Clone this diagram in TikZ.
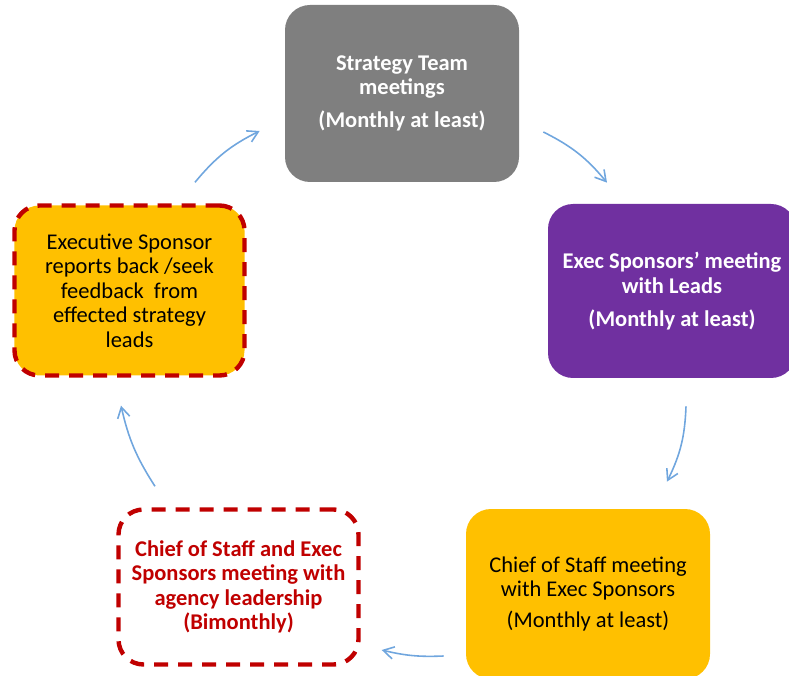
\documentclass[tikz,border=0pt]{standalone}
\usepackage{fontspec}
\setmainfont{Carlito}
\usepackage{tikz}
\usetikzlibrary{arrows.meta}

\definecolor{stratgray}{HTML}{7F7F7F}
\definecolor{leadpurple}{HTML}{7030A0}
\definecolor{chiefyellow}{HTML}{FFC000}
\definecolor{agencyred}{HTML}{C00000}
\definecolor{flowblue}{RGB}{112,166,222}

\begin{document}
\begin{tikzpicture}[
    box/.style={rounded corners=0.5cm, align=center, font=\fontsize{12.8}{13.9}\selectfont, inner sep=0pt},
    dashbox/.style={box, draw=agencyred, line width=2.5pt, dash pattern=on 0.28cm off 0.2cm},
    flow/.style={-{Straight Barb[length=6pt,width=7pt]}, draw=flowblue, line width=0.9pt}
  ]
    \useasboundingbox (0,0) rectangle (15.78,13.5);
    \clip (0,0) rectangle (15.78,13.5);
    \node[box, fill=stratgray, text=white, font=\fontsize{12.8}{13.9}\selectfont\bfseries,
      minimum width=4.68cm, minimum height=3.54cm] (strategy) at (8.04,11.63)
      {Strategy Team\\meetings\\[5pt](Monthly at least)};
    \node[box, fill=leadpurple, text=white, font=\fontsize{12.8}{13.9}\selectfont\bfseries,
      minimum width=4.96cm, minimum height=3.48cm] (execleads) at (13.44,7.68)
      {Exec Sponsors' meeting\\with Leads\\[5pt](Monthly at least)};
    \node[box, fill=chiefyellow, minimum width=4.88cm, minimum height=3.4cm] (chiefmeet) at (11.76,1.62)
      {Chief of Staff meeting\\with Exec Sponsors\\[4pt](Monthly at least)};
    \node[dashbox, fill=white, text=agencyred, font=\fontsize{12.8}{13.9}\selectfont\bfseries,
      minimum width=4.8cm, minimum height=3.1cm] (agency) at (4.77,1.76)
      {Chief of Staff and Exec\\Sponsors meeting with\\agency leadership\\(Bimonthly)};
    \node[dashbox, fill=chiefyellow, minimum width=4.6cm, minimum height=3.4cm] (reportback) at (2.59,7.69)
      {Executive Sponsor\\reports back /seek\\feedback\ \ from\\effected strategy\\leads};
    % cycle arrows
    \draw[flow] ([shift={(1.31,0.42)}]reportback.north) to[bend left=12] ([shift={(-0.5,-0.75)}]strategy.west);
    \draw[flow] ([shift={(0.48,-0.77)}]strategy.east) to[bend left=12] ([shift={(-1.30,0.42)}]execleads.north);
    \draw[flow] ([shift={(0.28,-0.56)}]execleads.south) to[bend left=12] ([shift={(1.58,0.54)}]chiefmeet.north);
    \draw[flow] ([shift={(-0.44,-1.24)}]chiefmeet.west) to[bend left=8] ([shift={(0.42,-1.26)}]agency.east);
    \draw[flow] ([shift={(-1.67,0.42)}]agency.north) to[bend left=10] ([shift={(-0.17,-0.56)}]reportback.south);
\end{tikzpicture}
\end{document}
